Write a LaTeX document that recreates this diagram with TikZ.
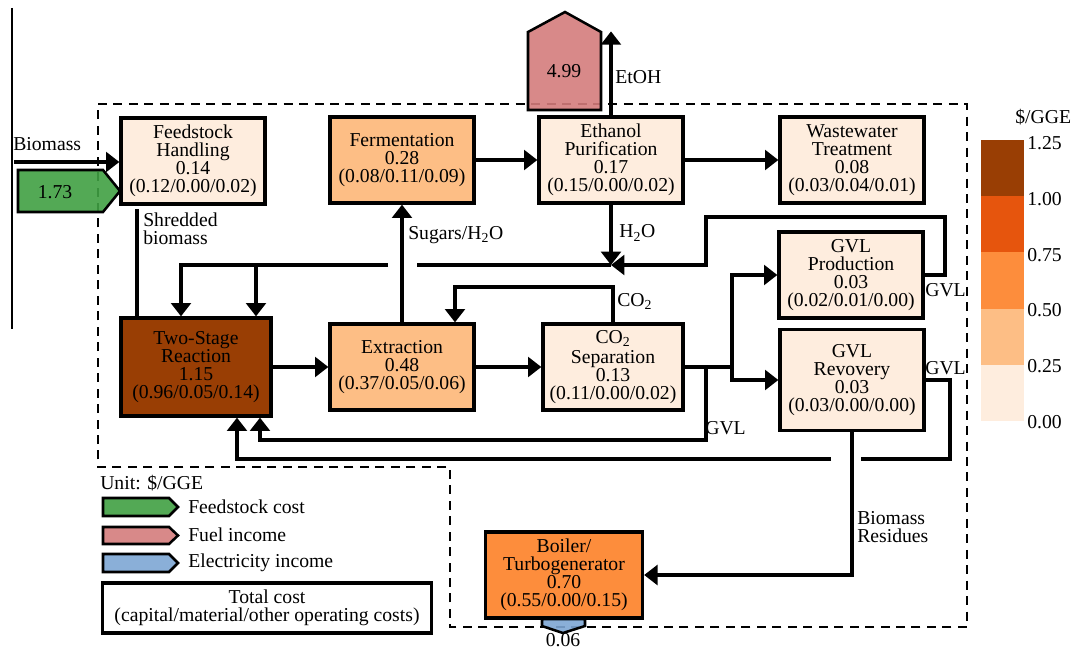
\documentclass[tikz,border=0pt]{standalone}
\usepackage{fontspec}
\setmainfont{Liberation Serif}
\usetikzlibrary{arrows.meta,calc}
\definecolor{bcLow}  {RGB}{254,237,222}
\definecolor{bcMid}  {RGB}{253,190,133}
\definecolor{bcHigh} {RGB}{253,141, 60}
\definecolor{bcVHigh}{RGB}{230, 85, 13}
\definecolor{bcPeak} {RGB}{153, 62,  4}
\definecolor{bcFeed} {RGB}{ 64,160, 67}
\definecolor{bcFuel} {RGB}{212,124,124}
\definecolor{bcElec} {RGB}{125,166,212}

\begin{document}
\begin{tikzpicture}[x=0.025cm,y=-0.025cm,
  every node/.style={font=\fontsize{14}{12.9}\selectfont,inner sep=0pt},
  cell/.style={draw,line width=2.3pt,align=center,minimum width=3.6cm,
               minimum height=2.15cm},
  lowcell/.style ={cell,fill=bcLow},
  midcell/.style ={cell,fill=bcMid},
  highcell/.style={cell,fill=bcHigh},
  peakcell/.style={cell,fill=bcPeak},
  pipe/.style={line width=2.7pt},
  flow/.style={pipe,-{Triangle[width=14pt,length=9.5pt]}},
  bound/.style={line width=1.5pt,dash pattern=on 6.4pt off 4.6pt},
  money/.style={draw,line width=1.8pt,fill opacity=0.9},
  lbl/.style={anchor=west}
]
\useasboundingbox (0,0) rectangle (1072,650);
\draw[line width=0.8pt] (12,8) -- (12,329);
% plant boundary
\draw[bound] (98,104) -- (967,104) -- (967,627) -- (450,627) -- (450,467)
  -- (98,467) -- cycle;
% top row
\node[lowcell] (feed)  at (193,161) {Feedstock\\Handling\\0.14\\(0.12/0.00/0.02)};
\node[midcell] (ferm)  at (402,160) {Fermentation\\0.28\\(0.08/0.11/0.09)};
\node[lowcell] (purif) at (611,160) {Ethanol\\Purification\\0.17\\(0.15/0.00/0.02)};
\node[lowcell] (waste) at (852,160) {Wastewater\\Treatment\\0.08\\(0.03/0.04/0.01)};
% middle row
\node[peakcell,minimum width=3.75cm,minimum height=2.45cm] (react) at (196,367)
   {Two-Stage\\Reaction\\1.15\\(0.96/0.05/0.14)};
\node[midcell] (extr) at (402,367) {Extraction\\0.48\\(0.37/0.05/0.06)};
\node[lowcell,minimum width=3.5cm] (cosep) at (613,367)
   {CO\textsubscript{2}\\[1.5pt]Separation\\0.13\\(0.11/0.00/0.02)};
\node[lowcell] (gvlprod) at (851,275) {GVL\\Production\\0.03\\(0.02/0.01/0.00)};
\node[lowcell,minimum height=2.525cm] (gvlrec) at (852,380)
   {GVL\\Revovery\\0.03\\(0.03/0.00/0.00)};
\node[highcell,minimum width=3.925cm] (boiler) at (564,575)
   {Boiler/\\Turbogenerator\\0.70\\(0.55/0.00/0.15)};
% streams
\coordinate (bioin) at (14,162);
\draw[flow] (bioin) -- (bioin -| feed.west);
\draw[flow] (ferm) -- (purif);
\draw[flow] (purif) -- (waste);
\draw[flow] (purif.north) -- ++(0,-84);
\coordinate (mix) at (611,265);
\draw[flow] (purif.south) -- (mix);
\draw[flow] (gvlprod.east) -| (945,217) -| (706,265) -- (mix);
\coordinate (recL) at (181,265);
\coordinate (recR) at (256,265);
\draw[pipe] (mix) -- (417,265);
\draw[flow] (388,265) -| (recL |- react.north);
\draw[flow] (recR) -- (recR |- react.north);
\coordinate (shred) at (137,209);
\draw[pipe] (shred) -- (shred |- react.north);
\draw[flow] (extr) -- (ferm);
\coordinate (coback) at (455,287);
\draw[flow] (cosep.north) |- (coback) -- (coback |- extr.north);
\draw[flow] (react) -- (extr);
\draw[flow] (extr) -- (cosep);
\draw[pipe] (cosep.east) -- ++(47,0) coordinate (split);
\draw[flow] (split) |- (gvlprod.west);
\draw[flow] (split) |- (gvlrec.west);
\coordinate (gvlback) at ($(cosep.east)+(21,0)$);
\coordinate (retA) at ($(react.south)+(64,0)$);
\coordinate (retB) at ($(react.south)+(41,0)$);
\draw[flow] (gvlback) |- ($(retA)+(0,22)$) -- (retA);
\draw[pipe] (gvlrec.east) -| (950,459) -- (861,459);
\draw[flow] (831,459) -| (retB);
\draw[flow] (gvlrec.south) |- (boiler.east);
% costs and incomes
\draw[money,fill=bcFeed] (18,170) -- (103,170) -- (120,191) -- (103,212)
  -- (18,212) -- cycle;
\node (feedcost) at (55,192) {1.73};
\draw[money,fill=bcFuel] (528,110) -- (528,32) -- (565,12) -- (601,32)
  -- (601,110) -- cycle;
\node (fuelinc) at (564,71) {4.99};
\draw[money,fill=bcElec] (542,619) -- (585,619) -- (585,626) -- (563,633)
  -- (542,626) -- cycle;
\node (elecinc) at (563,640.5) {0.06};
% stream labels
\node[lbl] (biolbl) at (13,144) {Biomass};
\node[lbl,align=left] (shredlbl) at (143,229) {Shredded\\biomass};
\node[lbl] (sugarlbl) at (408,235) {Sugars/H\textsubscript{2}O};
\node[lbl] (waterlbl) at (619,233) {H\textsubscript{2}O};
\node[lbl] (etohlbl) at (615,77) {EtOH};
\node[lbl] (colbl) at (617,301) {CO\textsubscript{2}};
\node[lbl] (gvlA) at (925,290) {GVL};
\node[lbl] (gvlB) at (925,368) {GVL};
\node[lbl] (gvlC) at (705,428) {GVL};
\node[lbl,align=left] (reslbl) at (857,527) {Biomass\\Residues};
% legend
\node[lbl] (unit) at (100,483) {Unit: \$/GGE};
\draw[money,fill=bcFeed] (103,498) -- (169,498) -- (178,507) -- (169,516)
  -- (103,516) -- cycle;
\node[lbl] (legfeed) at (188,507) {Feedstock cost};
\draw[money,fill=bcFuel] (103,527) -- (169,527) -- (178,535.5) -- (169,544)
  -- (103,544) -- cycle;
\node[lbl] (legfuel) at (188,535) {Fuel income};
\draw[money,fill=bcElec] (103,554) -- (169,554) -- (178,563) -- (169,572)
  -- (103,572) -- cycle;
\node[lbl] (legelec) at (188,563) {Electricity income};
\node[cell,minimum width=8.225cm,minimum height=1.25cm] (legtotal) at (267,608)
   {Total cost\\(capital/material/other operating costs)};
% colour bar
\node[lbl] (barunit) at (1015,117) {\$/GGE};
\foreach \c [count=\i from 0] in {bcPeak,bcVHigh,bcHigh,bcMid,bcLow}
  \fill[\c] (981,140+56.2*\i) rectangle (1024,196.2+56.2*\i);
\foreach \v [count=\i from 0] in {1.25,1.00,0.75,0.50,0.25,0.00}
  \node[lbl] (bar\i) at (1027,143+55.8*\i) {\v};
\end{tikzpicture}
\end{document}
